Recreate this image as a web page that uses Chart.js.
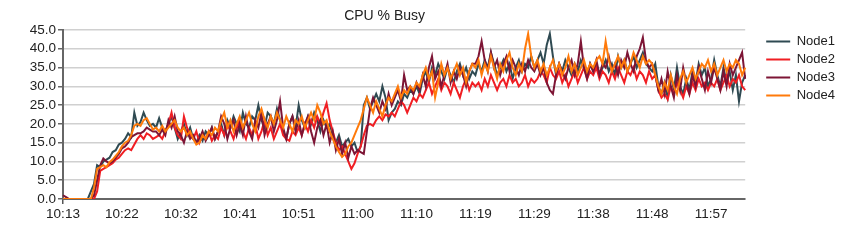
<!DOCTYPE html>
<html>
<head>
<meta charset="utf-8">
<script src="https://cdn.jsdelivr.net/npm/chart.js@4.4.1/dist/chart.umd.min.js"></script>
<style>
  html, body { margin: 0; padding: 0; background: #fff; }
  #wrap { width: 850px; height: 242px; }
</style>
</head>
<body>
<div id="wrap"><canvas id="cpuChart"></canvas></div>
<script>
// samples every 30s, one labelled tick every 19 samples
const chartTitle = 'CPU % Busy';
const seriesNames = ['Node1', 'Node2', 'Node3', 'Node4'];
const tickLabels = ['10:13', '10:22', '10:32', '10:41', '10:51', '11:00', '11:10', '11:19', '11:29', '11:38', '11:48', '11:57'];
const tickEvery = 19;

const node1 = [
  0, 0, 0, 0, 0, 0, 0, 0, 0, 2, 4, 9, 8.5, 10, 10.5, 11, 12.5, 13, 14.5,
  15, 16, 17.5, 16.5, 23, 19.5, 20.5, 23, 21, 19.5, 20, 19, 21.5, 19, 18, 20, 22, 19, 16,
  18, 20, 17, 19, 16, 15, 17, 15.5, 18, 17, 19, 16, 18, 20, 17, 21, 19, 22, 20,
  18, 23, 20, 19, 22, 21, 25, 21, 19, 23, 22, 20, 24, 21, 18, 16, 20, 22, 19,
  25, 21, 19, 22, 20, 23, 21, 18, 21, 19, 20, 17, 15, 17, 14, 15, 16, 14, 15,
  12.5, 14, 25, 27, 24, 26, 28, 26, 30, 27, 21, 23, 24, 26, 25, 28, 27, 29, 28,
  30, 28, 32, 34, 31, 35, 33, 36, 34, 32, 35, 33, 31, 34, 36, 33, 35, 32, 34,
  33, 36, 34, 37, 35, 39, 36, 33, 35, 37, 34, 36, 32, 35, 37, 34, 36, 35, 38,
  35, 37, 39, 36, 41, 44, 38, 33, 36, 34, 37, 35, 33, 36, 34, 37, 35, 33, 36,
  34, 36, 33, 35, 37, 34, 36, 33, 38, 35, 37, 34, 36, 38, 35, 37, 39, 36, 35,
  34, 36, 30, 28, 31, 27, 33, 29, 35, 30, 28, 32, 29, 34, 31, 36, 33, 35, 30,
  32, 37, 33, 30, 35, 31, 34, 29, 33, 26, 31, 33
];
const node2 = [
  0, 0, 0, 0, 0, 0, 0, 0, 0, 0, 0, 2, 7.5, 8, 8.5, 9, 9.5, 10.5, 11,
  12, 13, 13.5, 13, 14.5, 16, 17, 16, 17.5, 17, 16, 16.5, 17, 16, 18, 20, 23, 19, 17,
  16, 22, 19, 17, 16, 18, 15, 17, 16, 18, 15.5, 17, 16, 19, 17, 20, 18, 16, 19,
  21, 18, 16, 19, 17, 20, 16, 18, 21, 17, 19, 16, 18, 20, 17, 16, 15.5, 18, 17,
  19, 17, 20, 18, 21, 19, 22, 20, 23, 25.5, 21, 18, 15, 13, 14, 12, 10, 8, 9.5,
  12, 14, 17, 19.5, 20, 19.5, 21, 22, 21, 22.5, 22, 23, 22, 24, 26, 25, 23, 25, 27,
  26, 28, 27, 29, 31, 28, 30, 32, 29, 31, 30, 28, 31, 29, 27, 30, 32, 29, 31,
  30, 31, 29, 32, 30, 33, 31, 29, 31, 32, 30, 33, 31, 32, 30, 31, 33, 30, 32,
  31, 32, 34, 33, 31, 35, 33, 32, 34, 31, 33, 30, 32, 34, 31, 33, 35, 32, 34,
  33, 35, 32, 34, 33, 31, 34, 32, 35, 33, 31, 34, 33, 35, 32, 34, 33, 31, 34,
  32, 33, 29, 27, 28, 26.5, 30, 28, 31, 29, 27, 30, 28, 31, 29, 32, 30, 31, 29,
  31, 30, 32, 29, 31, 33, 30, 32, 31, 33, 30, 29
];
const node3 = [
  1, 0.5, 0, 0, 0, 0, 0, 0, 0, 0, 1, 5, 9, 10.8, 10, 9.5, 10, 11, 12,
  13.5, 14, 15, 16.5, 17, 17.5, 17.5, 18, 19, 18.5, 18, 18, 17, 18.5, 17, 21, 19, 22, 18,
  17, 15, 18, 16, 17, 15, 16, 18, 15.5, 17, 19, 16, 18, 22, 20, 16, 19, 21, 17,
  20, 17, 22, 18, 16, 21, 19, 23, 17, 20, 22, 18, 21, 26, 19, 16, 20, 22, 18,
  21, 17, 20, 22, 18, 15, 19, 21, 17, 20, 15, 18, 13, 16, 12, 15, 11, 14, 12,
  13, 12.5, 12, 18, 24, 27, 25, 23, 26, 24, 28, 25, 27, 29, 26, 33, 29, 30, 28,
  31, 29, 33, 30, 35, 38, 32, 34, 30, 33, 36, 31, 34, 32, 35, 33, 30, 34, 36,
  36, 38, 42, 37, 34, 39, 35, 37, 33, 36, 38, 34, 37, 35, 33, 36, 34, 37, 35,
  34, 36, 33, 35, 31, 29, 28, 33, 36, 34, 32, 35, 37, 33, 36, 42, 35, 32, 36,
  34, 37, 33, 36, 35, 38, 34, 36, 33, 37, 35, 39, 36, 34, 38, 40, 43, 37, 35,
  36, 33, 29, 32, 28, 34, 30, 27, 33, 29, 35, 31, 28, 33, 30, 35, 32, 29, 34,
  31, 35, 32, 29, 34, 30, 36, 33, 35, 37, 39, 32
];
const node4 = [
  0, 0, 0, 0, 0, 0, 0, 0, 0, 0, 3, 8, 8.5, 9, 8.5, 9.8, 10.5, 11.5, 12.5,
  14, 15, 15.5, 17, 19.5, 20, 19.5, 21, 21.5, 20, 18.5, 19, 18, 19.5, 18, 19, 20, 21, 19,
  18, 19, 17, 18, 16, 14.5, 15, 17, 16, 18, 17, 19, 18, 21, 23, 19, 21, 18, 20,
  22, 19, 21, 23, 20, 18, 22, 24, 21, 19, 22, 20, 23, 21, 19, 22, 20, 18, 21,
  20, 22, 19, 21, 23, 21, 25, 23, 20, 21, 18, 16, 14, 12.5, 11.2, 12, 14, 15, 17,
  19, 21, 24, 27, 25, 23, 26, 24, 22, 25, 27, 26, 28, 30, 27, 29, 28, 30, 29,
  31, 30, 33, 35, 32, 34, 27, 31, 36, 33, 35, 32, 34, 36, 33, 35, 31, 34, 36,
  35, 37, 33, 36, 34, 38, 35, 32, 36, 34, 37, 39, 35, 33, 36, 34, 40, 44, 38,
  35, 37, 34, 36, 33, 35, 37, 34, 36, 33, 35, 38, 34, 36, 33, 35, 37, 34, 36,
  35, 37, 38, 36, 42, 37, 34, 36, 38, 35, 37, 34, 36, 39, 37, 35, 38, 36, 37,
  36, 33, 30, 28, 31, 29, 33, 30, 28, 32, 34, 31, 33, 35, 32, 34, 36, 35, 37,
  34, 36, 33, 35, 37, 34, 36, 35, 37, 36, 33, 35
];
const seriesColors = ['#2f4a52', '#f01e23', '#7d1535', '#ff7a0a'];

const fontFamily = '"Liberation Sans", Arial, sans-serif';
const textColor = '#222';

const categories = node1.map((v, i) => i % tickEvery === 0 ? tickLabels[i / tickEvery] : '');

// title is centred over the area left of the legend, not the whole canvas
const titlePlugin = {
  id: 'plotTitle',
  afterDraw(chart) {
    const ctx = chart.ctx;
    ctx.save();
    ctx.font = '14px ' + fontFamily;
    ctx.fillStyle = textColor;
    ctx.textAlign = 'center';
    ctx.textBaseline = 'middle';
    ctx.fillText(chartTitle, chart.legend.left / 2 + 4, 16);
    ctx.restore();
  }
};

const ctx = document.getElementById('cpuChart').getContext('2d');
new Chart(ctx, {
  type: 'line',
  data: {
    labels: categories,
    datasets: [node1, node2, node3, node4].map((d, i) => ({
      label: seriesNames[i],
      data: d,
      borderColor: seriesColors[i],
      backgroundColor: seriesColors[i],
      borderWidth: 2,
      pointRadius: 0,
      tension: 0,
      order: 4 - i   // Node4 painted on top
    }))
  },
  options: {
    responsive: true,
    maintainAspectRatio: false,
    animation: false,
    layout: { padding: { top: 30, right: 5, left: 0, bottom: 0 } },
    plugins: {
      title: { display: false },
      tooltip: { enabled: false },
      legend: {
        position: 'right',
        align: 'start',
        labels: {
          usePointStyle: true,
          pointStyle: 'line',
          pointStyleWidth: 24,
          padding: 5,
          color: textColor,
          font: { family: fontFamily, size: 13 },
          sort: (a, b) => a.datasetIndex - b.datasetIndex
        }
      }
    },
    scales: {
      x: {
        grid: {
          drawOnChartArea: false,
          tickLength: 5,
          lineWidth: 1.5,
          tickColor: c => c.index % tickEvery === 0 ? '#555' : 'rgba(0,0,0,0)'
        },
        border: { color: '#666', width: 2 },
        ticks: {
          autoSkip: false,
          maxRotation: 0,
          padding: 2,
          color: textColor,
          font: { family: fontFamily, size: 13.5 },
          callback: (v, i) => i % tickEvery === 0 ? tickLabels[i / tickEvery] : null
        },
        afterFit: s => { s.height = 43; }
      },
      y: {
        min: 0,
        max: 45,
        ticks: {
          stepSize: 5,
          autoSkip: false,
          padding: 2,
          color: textColor,
          font: { family: fontFamily, size: 13.5 },
          callback: v => v.toFixed(1)
        },
        grid: { color: '#d0d0d0', lineWidth: 1.5, tickLength: 5, tickColor: '#666' },
        border: { color: '#666', width: 2 },
        afterFit: s => { s.width = 63; }
      },
      gap: {
        type: 'linear',
        position: 'right',
        grid: { display: false },
        border: { display: false },
        ticks: { display: false },
        afterFit: s => { s.width = 16; }
      }
    }
  },
  plugins: [titlePlugin]
});
</script>
</body>
</html>
